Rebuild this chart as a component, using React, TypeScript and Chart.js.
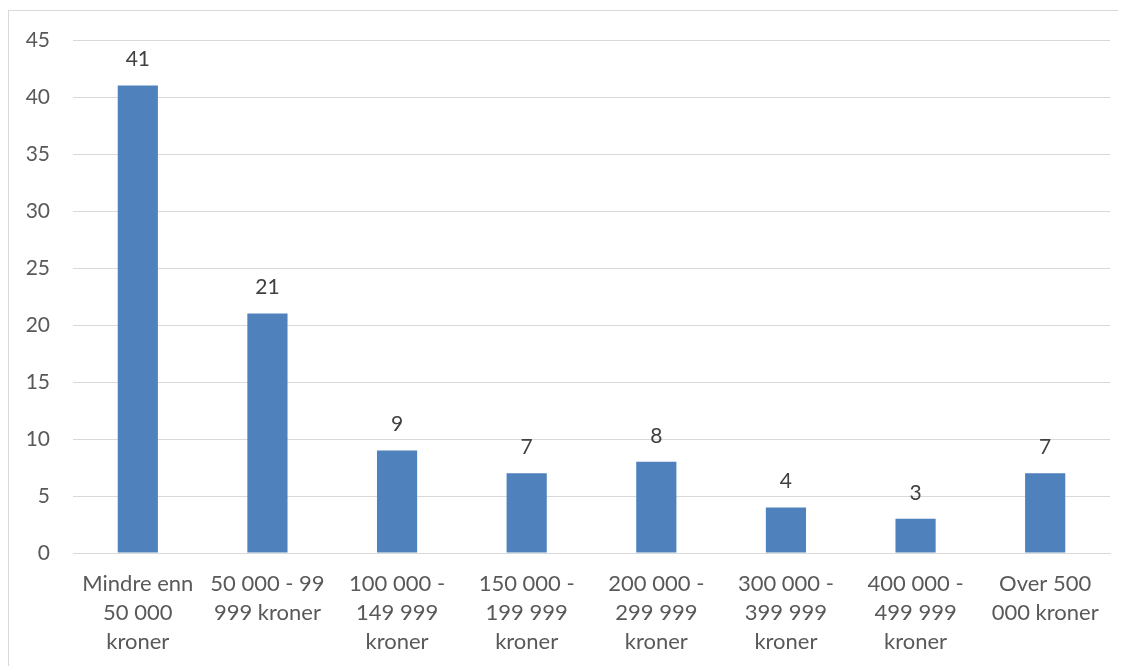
import React, { useEffect, useRef } from "react";
import { Chart, registerables } from "chart.js";

Chart.register(...registerables);

const categories: string[][] = [
  ["Mindre enn", "50 000", "kroner"],
  ["50 000 - 99", "999 kroner"],
  ["100 000 -", "149 999", "kroner"],
  ["150 000 -", "199 999", "kroner"],
  ["200 000 -", "299 999", "kroner"],
  ["300 000 -", "399 999", "kroner"],
  ["400 000 -", "499 999", "kroner"],
  ["Over 500", "000 kroner"],
];
const values: number[] = [41, 21, 9, 7, 8, 4, 3, 7];
const yMax = 45;
const yStep = 5;

const FONT = "Lato, 'Open Sans', sans-serif";

const valueLabels = {
  id: "valueLabels",
  afterDatasetsDraw(chart: any) {
    const ctx = chart.ctx;
    const meta = chart.getDatasetMeta(0);
    ctx.save();
    ctx.font = `21px ${FONT}`;
    ctx.fillStyle = "#404040";
    ctx.textAlign = "center";
    ctx.textBaseline = "middle";
    meta.data.forEach((bar: any, i: number) => {
      ctx.fillText(String(values[i]), bar.x, bar.y - 26);
    });
    ctx.restore();
  },
};

export default function App() {
  const ref = useRef<HTMLCanvasElement | null>(null);
  useEffect(() => {
    if (!ref.current) return;
    const chart = new Chart(ref.current, {
      type: "bar",
      data: {
        labels: categories,
        datasets: [
          {
            data: values,
            backgroundColor: "#4f81bd",
            borderWidth: 0,
            categoryPercentage: 1,
            barPercentage: 0.31,
          },
        ],
      },
      options: {
        animation: false,
        responsive: false,
        maintainAspectRatio: false,
        layout: { padding: { top: 29, right: 9, left: 0, bottom: 0 } },
        plugins: { legend: { display: false }, tooltip: { enabled: false } },
        scales: {
          x: {
            grid: { display: false },
            border: { color: "#d9d9d9" },
            ticks: {
              color: "#595959",
              font: { family: FONT, size: 22, lineHeight: 1.32 },
              padding: 8,
              maxRotation: 0,
              autoSkip: false,
            },
            afterFit: (s: any) => {
              s.height = 113;
            },
          },
          y: {
            min: 0,
            max: yMax,
            grid: { color: "#d9d9d9", drawTicks: false },
            border: { display: false },
            ticks: {
              stepSize: yStep,
              color: "#595959",
              font: { family: FONT, size: 21 },
              padding: 23,
            },
            afterFit: (s: any) => {
              s.width = 64;
              s.paddingTop = 12;
              s.paddingBottom = 12;
            },
          },
        },
      },
      plugins: [valueLabels],
    });
    return () => chart.destroy();
  }, []);
  return (
    <div
      style={{
        marginTop: 2,
        width: 1110,
        height: 660,
        border: "1px solid #d9d9d9",
        background: "#fff",
      }}
    >
      <canvas ref={ref} width={1110} height={655} style={{ display: "block" }} />
    </div>
  );
}
